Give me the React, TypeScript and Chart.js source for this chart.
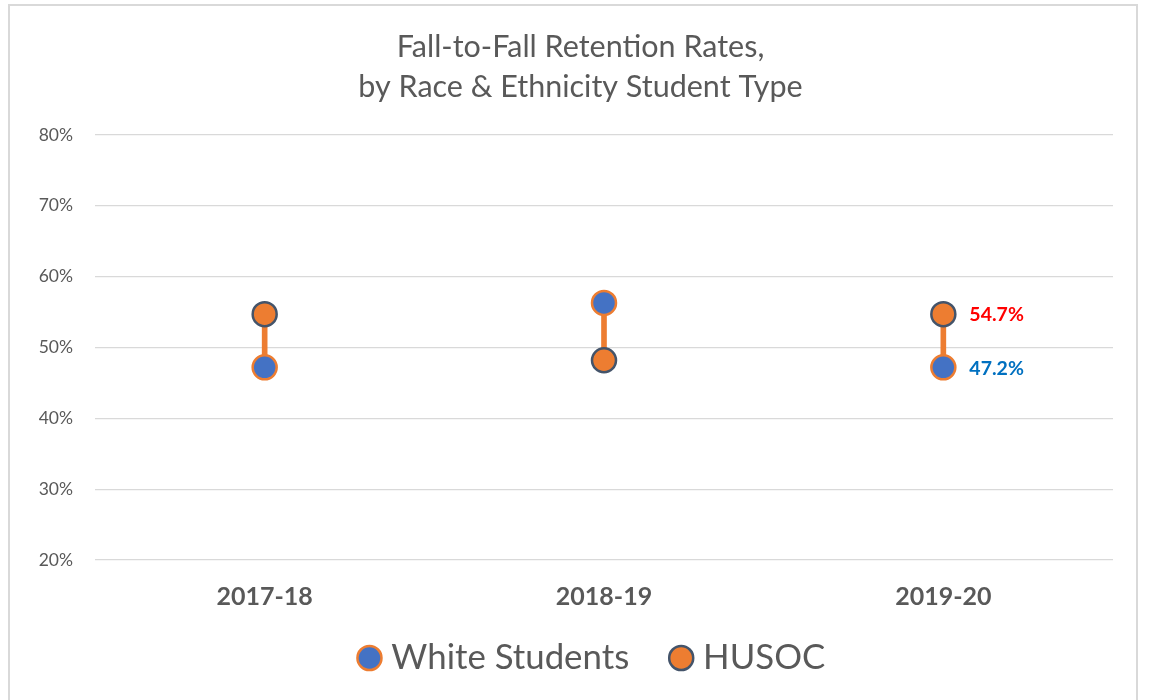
import React, { useEffect, useRef } from "react";
import { Chart, registerables } from "chart.js";

Chart.register(...registerables);

const categories = ["2017-18", "2018-19", "2019-20"];
const whiteStudents = [47.2, 56.3, 47.2];
const husoc = [54.7, 48.2, 54.7];
const yTicks = [20, 30, 40, 50, 60, 70, 80];
const titleLines = ["Fall-to-Fall Retention Rates,", "by Race & Ethnicity Student Type"];

const BLUE = "#4472C4";
const ORANGE = "#ED7D31";
const DARK = "#44546A";
const TEXT = "#595959";
const FONT = "Lato, 'Open Sans', sans-serif";

const lastLabelsPlugin = {
  id: "lastLabels",
  afterDatasetsDraw(chart: any) {
    const ctx = chart.ctx;
    const specs = [
      { ds: 1, color: "#0070C0" },
      { ds: 2, color: "#FF0000" },
    ];
    ctx.save();
    ctx.font = `bold 19.5px ${FONT}`;
    ctx.textAlign = "left";
    ctx.textBaseline = "middle";
    specs.forEach((s) => {
      const meta = chart.getDatasetMeta(s.ds);
      const data = chart.data.datasets[s.ds].data as number[];
      const i = data.length - 1;
      const pt = meta.data[i];
      ctx.fillStyle = s.color;
      ctx.fillText(data[i].toFixed(1) + "%", pt.x + 26, pt.y + 1);
    });
    ctx.restore();
  },
};

// Shift title & legend boxes to match the original's placement
const nudgePlugin = {
  id: "nudge",
  afterLayout(chart: any) {
    const t = chart.titleBlock;
    if (t) {
      t.left += 19;
      t.right += 19;
    }
    const l = chart.legend;
    if (l) {
      l.left += 33.6;
      l.right += 33.6;
      l.top -= 18.9;
      l.bottom -= 18.9;
    }
  },
};

export default function App() {
  const ref = useRef<HTMLCanvasElement>(null);
  useEffect(() => {
    if (!ref.current) return;
    const chart = new Chart(ref.current, {
      type: "bar",
      data: {
        labels: categories,
        datasets: [
          {
            type: "bar",
            label: "connector",
            data: categories.map((_, i) => [
              Math.min(whiteStudents[i], husoc[i]),
              Math.max(whiteStudents[i], husoc[i]),
            ]) as any,
            backgroundColor: ORANGE,
            barThickness: 5,
            order: 3,
          } as any,
          {
            type: "line",
            label: "White Students",
            data: whiteStudents,
            showLine: false,
            pointRadius: 12,
            pointHoverRadius: 12,
            pointBackgroundColor: BLUE,
            pointBorderColor: ORANGE,
            pointBorderWidth: 2.5,
            backgroundColor: BLUE,
            borderColor: ORANGE,
            order: 1,
          },
          {
            type: "line",
            label: "HUSOC",
            data: husoc,
            showLine: false,
            pointRadius: 12,
            pointHoverRadius: 12,
            pointBackgroundColor: ORANGE,
            pointBorderColor: DARK,
            pointBorderWidth: 2.5,
            backgroundColor: ORANGE,
            borderColor: DARK,
            order: 2,
          },
        ],
      },
      options: {
        animation: false,
        responsive: true,
        maintainAspectRatio: false,
        layout: { padding: { left: 0, right: 23, top: 0, bottom: 1.7 } },
        plugins: {
          title: {
            display: true,
            text: titleLines,
            color: TEXT,
            font: { family: FONT, size: 30.5, weight: "normal" as any, lineHeight: 40 / 30.5 },
            padding: { top: 21, bottom: 28 },
          },
          legend: {
            position: "bottom",
            labels: {
              filter: (item: any) => item.datasetIndex !== 0,
              usePointStyle: true,
              pointStyle: "circle",
              boxWidth: 9,
              boxHeight: 17,
              padding: 47.5,
              color: TEXT,
              font: { family: FONT, size: 34.8 },
            },
          },
          tooltip: { enabled: false },
        },
        scales: {
          x: {
            offset: true,
            grid: { display: false, drawTicks: false },
            border: { display: false },
            afterFit: (scale: any) => {
              scale.height = 52;
            },
            ticks: {
              color: TEXT,
              font: { family: FONT, size: 25, weight: "bold" as any },
              padding: 22,
            },
          },
          y: {
            min: yTicks[0],
            max: yTicks[yTicks.length - 1],
            grid: { color: "#D9D9D9", lineWidth: 1.3, drawTicks: false },
            border: { display: false },
            afterBuildTicks: (scale: any) => {
              scale.ticks = yTicks.map((v) => ({ value: v }));
            },
            afterFit: (scale: any) => {
              scale.width = 85;
            },
            ticks: {
              color: TEXT,
              font: { family: FONT, size: 17.5 },
              padding: 22,
              callback: (v: any) => v + "%",
            },
          },
        },
      },
      plugins: [lastLabelsPlugin, nudgePlugin],
    });
    return () => chart.destroy();
  }, []);

  return (
    <div
      style={{
        position: "absolute",
        left: 8,
        top: 4,
        width: 1130,
        height: 710,
        border: "2px solid #D9D9D9",
        background: "#fff",
        boxSizing: "border-box",
        overflow: "hidden",
      }}
    >
      <div style={{ position: "absolute", left: 0, top: 0, width: 1126, height: 700 }}>
        <canvas ref={ref} />
      </div>
    </div>
  );
}
